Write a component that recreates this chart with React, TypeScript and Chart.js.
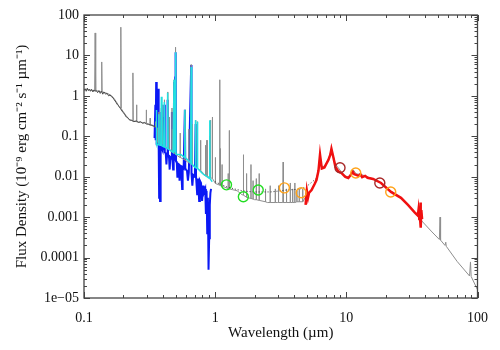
import React, { useEffect, useRef } from "react";
import { Chart, registerables } from "chart.js";
Chart.register(...registerables);

// ---- tick labels ----
const X_TICKS = [0.1, 1, 10, 100];
const X_TICK_LABELS = ["0.1", "1", "10", "100"];
const Y_TICKS = [1e-5, 1e-4, 1e-3, 1e-2, 1e-1, 1, 10, 100];
const Y_TICK_LABELS = ["1e\u221205", "0.0001", "0.001", "0.01", "0.1", "1", "10", "100"];

// ---- grey model spectrum: [wavelength (µm), flux] ----
const MODEL_SPECTRUM: [number, number][] = [
  [0.100, 1.40], [0.104, 1.45], [0.110, 1.40], [0.1205, 1.35], [0.1216, 36], [0.1228, 1.35],
  [0.130, 1.30], [0.1355, 1.25], [0.1365, 6.9], [0.1375, 1.25], [0.145, 1.20], [0.155, 1.10],
  [0.163, 1.00], [0.170, 0.85], [0.178, 0.68], [0.185, 0.55], [0.1895, 0.50], [0.1909, 50],
  [0.1925, 0.48], [0.200, 0.40], [0.210, 0.32], [0.222, 0.26], [0.2345, 0.24], [0.236, 3.7],
  [0.2375, 0.24], [0.250, 0.23], [0.2515, 0.60], [0.253, 0.23], [0.270, 0.22], [0.2975, 0.21],
  [0.2985, 0.45], [0.2995, 0.21], [0.318, 0.19], [0.3195, 0.28], [0.321, 0.19], [0.3485, 0.17],
  [0.350, 0.23], [0.3515, 0.17], [0.3645, 0.16], [0.366, 0.07],
  [0.3722, 0.069], [0.3727, 0.4], [0.3732, 0.069],
  [0.3864, 0.067], [0.3869, 0.25], [0.3874, 0.067],
  [0.3885, 0.066], [0.389, 0.5], [0.3895, 0.066],
  [0.3965, 0.064], [0.397, 0.6], [0.3975, 0.064],
  [0.4095, 0.060], [0.4102, 0.8], [0.411, 0.060],
  [0.4335, 0.050], [0.434, 1.25], [0.4345, 0.050],
  [0.4358, 0.049], [0.4363, 0.2], [0.4368, 0.049],
  [0.4465, 0.046], [0.4471, 0.3], [0.4477, 0.046],
  [0.468, 0.041], [0.4686, 0.5], [0.4692, 0.041],
  [0.4708, 0.040], [0.4713, 0.15], [0.4718, 0.040],
  [0.4855, 0.038], [0.4861, 2.5], [0.4867, 0.038],
  [0.4955, 0.037], [0.4959, 5], [0.4963, 0.037],
  [0.5003, 0.036], [0.5007, 16], [0.5011, 0.036],
  [0.530, 0.031], [0.5407, 0.030], [0.5412, 0.12], [0.5417, 0.030],
  [0.587, 0.026], [0.5876, 0.45], [0.5882, 0.026],
  [0.6296, 0.022], [0.6300, 0.15], [0.6304, 0.022],
  [0.6555, 0.021], [0.6563, 6.0], [0.6571, 0.021],
  [0.6675, 0.020], [0.6678, 0.2], [0.6681, 0.020],
  [0.6713, 0.019], [0.6717, 0.10], [0.6721, 0.019],
  [0.706, 0.017], [0.7065, 0.25], [0.707, 0.017],
  [0.7131, 0.0165], [0.7136, 0.12], [0.7141, 0.0165],
  [0.7315, 0.016], [0.7325, 0.23], [0.7335, 0.016],
  [0.7746, 0.014], [0.7751, 0.08], [0.7756, 0.014],
  [0.800, 0.013], [0.820, 0.011],
  [0.8441, 0.0105], [0.8446, 0.06], [0.8451, 0.0105],
  [0.866, 0.0102], [0.8665, 0.08], [0.867, 0.0102],
  [0.9064, 0.0097], [0.9069, 0.10], [0.9074, 0.0097],
  [0.9225, 0.0095], [0.923, 0.25], [0.9235, 0.0095],
  [0.9525, 0.0090], [0.9532, 0.30], [0.954, 0.0090],
  [1.000, 0.0070], [1.004, 0.0068], [1.005, 0.030], [1.006, 0.0068],
  [1.080, 0.0062], [1.083, 2.5], [1.086, 0.0062],
  [1.091, 0.0061], [1.094, 0.05], [1.097, 0.0060],
  [1.128, 0.0058], [1.129, 0.02], [1.130, 0.0058],
  [1.180, 0.0055], [1.256, 0.0051], [1.257, 0.012], [1.258, 0.0051],
  [1.280, 0.0050], [1.282, 0.14], [1.284, 0.0050],
  [1.350, 0.0048], [1.470, 0.0045], [1.600, 0.0036],
  [1.6435, 0.0035], [1.644, 0.035], [1.6445, 0.0035],
  [1.7355, 0.0031], [1.736, 0.012], [1.7365, 0.0031],
  [1.800, 0.0030], [1.874, 0.0029], [1.875, 0.020], [1.876, 0.0029],
  [1.944, 0.0028], [1.945, 0.008], [1.946, 0.0028],
  [2.000, 0.0027], [2.057, 0.0027], [2.0587, 0.009], [2.060, 0.0027],
  [2.165, 0.0026], [2.166, 0.012], [2.167, 0.0026],
  [2.418, 0.0024], [2.42, 0.005], [2.422, 0.0024], [2.500, 0.0023],
  [2.622, 0.0023], [2.626, 0.006], [2.630, 0.0023],
  [2.870, 0.0023], [2.873, 0.005], [2.876, 0.0023],
  [3.000, 0.0023], [3.037, 0.0023], [3.040, 0.006], [3.043, 0.0023],
  [3.280, 0.0023], [3.297, 0.023], [3.315, 0.0023],
  [3.497, 0.0023], [3.50, 0.005], [3.503, 0.0023],
  [3.736, 0.0023], [3.740, 0.007], [3.744, 0.0023],
  [3.897, 0.0023], [3.90, 0.005], [3.903, 0.0023],
  [4.000, 0.0023], [4.048, 0.0023], [4.052, 0.007], [4.056, 0.0023],
  [4.197, 0.0024], [4.20, 0.0045], [4.203, 0.0024],
  [4.372, 0.0024], [4.376, 0.005], [4.380, 0.0024],
  [4.600, 0.0024], [4.650, 0.0024], [4.654, 0.005], [4.658, 0.0024],
  [4.900, 0.0032], [5.150, 0.0040], [5.400, 0.0047], [5.900, 0.0083], [6.130, 0.015],
  [6.300, 0.034], [6.500, 0.018], [6.800, 0.018], [7.050, 0.022], [7.300, 0.026],
  [7.700, 0.049], [8.000, 0.030], [8.260, 0.020], [8.700, 0.0165], [9.160, 0.0132],
  [9.800, 0.0105], [10.35, 0.0099], [10.90, 0.0115], [11.30, 0.0147], [11.90, 0.0117],
  [12.80, 0.0115], [13.90, 0.0105], [16.00, 0.0088], [18.40, 0.0070], [21.90, 0.0044],
  [26.10, 0.0030], [29.50, 0.0020], [33.30, 0.0013], [37.00, 0.00085], [45.00, 0.00043],
  [51.20, 0.00028], [51.80, 0.0010], [52.30, 0.00027],
  [56.50, 0.00020], [57.30, 0.00024], [57.80, 0.00019],
  [70.00, 0.00008], [87.00, 0.000035], [88.40, 0.000078], [89.50, 0.000034], [100.0, 0.000016],
];

// ---- dark UV spectrum ----
const UV_WL = [
  0.100, 0.102, 0.104, 0.106, 0.108, 0.110, 0.112, 0.114, 0.117, 0.119,
  0.121, 0.124, 0.127, 0.130, 0.133, 0.136, 0.139, 0.142, 0.146, 0.150,
  0.154, 0.158, 0.162, 0.166, 0.170, 0.175, 0.180, 0.185, 0.190, 0.195,
  0.200, 0.205, 0.210, 0.215, 0.220, 0.225, 0.230, 0.240, 0.250, 0.260,
  0.270, 0.280, 0.290, 0.300, 0.310, 0.320, 0.330, 0.340, 0.350,
];
const UV_FLUX = [
  1.35, 1.50, 1.30, 1.55, 1.35, 1.45, 1.30, 1.45, 1.25, 1.40,
  1.30, 1.35, 1.20, 1.35, 1.15, 1.30, 1.10, 1.25, 1.10, 1.15,
  1.00, 1.05, 0.95, 0.90, 0.80, 0.70, 0.60, 0.55, 0.48, 0.42,
  0.38, 0.34, 0.30, 0.29, 0.26, 0.25, 0.25, 0.23, 0.24, 0.22,
  0.23, 0.21, 0.22, 0.20, 0.20, 0.19, 0.19, 0.18, 0.17,
];

// ---- dark dotted near-IR model ----
const NIR_WL = [1.0, 1.1, 1.23, 1.4, 1.6, 1.8, 2.0, 2.3, 2.66, 3.0, 3.5, 4.0, 4.46, 4.9, 5.5, 6.0];
const NIR_FLUX = [0.0075, 0.0065, 0.0056, 0.005, 0.0045, 0.0043, 0.0042, 0.0042, 0.0042, 0.0044, 0.0047, 0.0048, 0.005, 0.0055, 0.0075, 0.0095];

// ---- blue optical spectrum ----
const BLUE_WL = [
  0.345, 0.350, 0.352, 0.355, 0.357, 0.360, 0.362, 0.365, 0.368, 0.371,
  0.374, 0.377, 0.380, 0.384, 0.389, 0.392, 0.397, 0.402, 0.405, 0.410,
  0.413, 0.420, 0.425, 0.430, 0.434, 0.437, 0.445, 0.450, 0.455, 0.462,
  0.468, 0.472, 0.478, 0.483, 0.486, 0.489, 0.494, 0.496, 0.498, 0.5007,
  0.503, 0.510, 0.515, 0.520, 0.530, 0.535, 0.540, 0.550, 0.560, 0.565,
  0.575, 0.5876, 0.592, 0.600, 0.610, 0.620, 0.630, 0.6563, 0.660, 0.670,
  0.680, 0.700, 0.710, 0.715, 0.730, 0.740, 0.755, 0.765, 0.780, 0.795,
  0.810, 0.820, 0.840, 0.850, 0.860, 0.870, 0.880, 0.890, 0.900, 0.910,
  0.920, 0.930,
];
const BLUE_FLUX = [
  0.09, 0.6, 0.08, 2.2, 0.1, 0.06, 0.5, 0.07, 1.5, 0.06,
  0.003, 0.05, 0.0025, 0.055, 0.4, 0.05, 0.045, 0.3, 0.045, 0.6,
  0.04, 0.038, 0.02, 0.036, 0.8, 0.035, 0.03, 0.015, 0.03, 0.028,
  0.4, 0.027, 0.015, 0.026, 2.2, 0.026, 0.025, 3, 0.025, 12,
  0.024, 0.022, 0.01, 0.021, 0.02, 0.008, 0.019, 0.018, 0.005, 0.017,
  0.016, 0.45, 0.016, 0.015, 0.014, 0.008, 0.013, 5.8, 0.012, 0.006,
  0.011, 0.010, 0.2, 0.010, 0.0035, 0.009, 0.0025, 0.008, 0.007, 0.0025,
  0.006, 0.004, 0.005, 0.0012, 0.0045, 0.0004, 0.003, 0.00005, 0.0003, 0.002,
  0.004, 0.005,
];

// ---- cyan optical spectrum ----
const CYAN_WL = [
  0.355, 0.3565, 0.358, 0.370, 0.372, 0.3727, 0.3735, 0.385, 0.389, 0.393,
  0.405, 0.410, 0.415, 0.430, 0.434, 0.438, 0.470, 0.478, 0.486, 0.490,
  0.4959, 0.4985, 0.5007, 0.503, 0.550, 0.584, 0.5876, 0.591, 0.650, 0.6563,
  0.662, 0.703, 0.7065, 0.710, 0.729, 0.7325, 0.736, 0.800, 0.850, 0.906,
  0.910, 0.914, 0.950,
];
const CYAN_FLUX = [
  0.07, 0.45, 0.065, 0.062, 0.062, 0.35, 0.061, 0.06, 0.95, 0.058,
  0.055, 0.7, 0.054, 0.05, 1.2, 0.049, 0.042, 0.04, 2.5, 0.04,
  2.5, 0.038, 12, 0.036, 0.035, 0.03, 0.45, 0.03, 0.022, 5.2,
  0.021, 0.017, 0.25, 0.017, 0.016, 0.23, 0.016, 0.012, 0.0105, 0.009,
  0.25, 0.009, 0.0075,
];

// ---- red mid-IR spectrum ----
const RED_WL = [
  4.89, 5.00, 5.10, 5.20, 5.43, 5.72, 5.92, 6.13, 6.30, 6.50,
  6.81, 7.05, 7.30, 7.55, 7.70, 7.97, 8.26, 8.70, 9.16, 9.82,
  10.35, 10.90, 11.20, 11.50, 11.90, 12.40, 12.80, 13.20, 13.90, 14.50,
  16.00, 18.40, 21.90, 26.10, 29.50, 33.30, 35.10, 35.50, 36.00, 36.50,
  36.80, 37.00, 37.30, 37.80,
];
const RED_FLUX = [
  0.0020, 0.0045, 0.0030, 0.0040, 0.0047, 0.0065, 0.0083, 0.014, 0.035, 0.016,
  0.017, 0.021, 0.026, 0.035, 0.049, 0.030, 0.0175, 0.0135, 0.0124, 0.0099,
  0.0093, 0.0115, 0.0132, 0.0115, 0.0111, 0.0105, 0.0115, 0.0098, 0.0105, 0.0094,
  0.0088, 0.0070, 0.0042, 0.0030, 0.0020, 0.0013, 0.0011, 0.0015, 0.0009, 0.0009,
  0.0023, 0.00055, 0.0015, 0.0009,
];

// ---- photometry ----
const GREEN_WL = [1.22, 1.64, 2.13];
const GREEN_FLUX = [0.0063, 0.0032, 0.0047];
const ORANGE_WL = [3.37, 4.53, 11.8, 21.8];
const ORANGE_FLUX = [0.0053, 0.0040, 0.0124, 0.0042];
const DARKRED_WL = [8.95, 18.0];
const DARKRED_FLUX = [0.0166, 0.0070];

const pts = (xs: number[], ys: number[]) => xs.map((x, i) => ({ x, y: ys[i] }));

const frameTicks = {
  id: "frameTicks",
  afterDatasetsDraw(chart: any) {
    const { ctx, chartArea: a, scales } = chart;
    const xs = scales.x;
    const ys = scales.y;
    ctx.save();
    ctx.strokeStyle = "#444";
    ctx.lineWidth = 1;
    ctx.beginPath();
    for (let d = -1; d <= 2; d++) {
      for (let m = 1; m <= 9; m++) {
        const v = m * Math.pow(10, d);
        if (v > 100.0001) continue;
        const px = Math.round(xs.getPixelForValue(v)) + 0.5;
        const len = m === 1 ? 6 : 3;
        ctx.moveTo(px, a.bottom);
        ctx.lineTo(px, a.bottom - len);
        ctx.moveTo(px, a.top);
        ctx.lineTo(px, a.top + len);
      }
    }
    for (let d = -5; d <= 2; d++) {
      for (let m = 1; m <= 9; m++) {
        const v = m * Math.pow(10, d);
        if (v > 100.0001) continue;
        const py = Math.round(ys.getPixelForValue(v)) + 0.5;
        const len = m === 1 ? 6 : 3;
        ctx.moveTo(a.left, py);
        ctx.lineTo(a.left + len, py);
        ctx.moveTo(a.right, py);
        ctx.lineTo(a.right - len, py);
      }
    }
    ctx.stroke();
    ctx.lineWidth = 1.3;
    ctx.strokeRect(a.left, a.top, a.right - a.left, a.bottom - a.top);
    ctx.restore();
  },
};

const FONT = "'Liberation Serif', 'Times New Roman', serif";

export default function App() {
  const ref = useRef<HTMLCanvasElement | null>(null);
  useEffect(() => {
    if (!ref.current) return;
    const line = (data: any, color: string, width: number, order: number, extra: any = {}) => ({
      data,
      borderColor: color,
      backgroundColor: color,
      borderWidth: width,
      showLine: true,
      pointRadius: 0,
      tension: 0,
      order,
      ...extra,
    });
    const circles = (data: any, color: string) => ({
      data,
      borderColor: color,
      backgroundColor: "rgba(0,0,0,0)",
      borderWidth: 1.4,
      pointRadius: 5,
      pointStyle: "circle",
      showLine: false,
      order: 0,
    });
    const chart = new Chart(ref.current, {
      type: "scatter",
      data: {
        datasets: [
          line(pts(BLUE_WL, BLUE_FLUX), "#0a18f5", 2, 9),
          line(MODEL_SPECTRUM.map(([x, y]) => ({ x, y })), "#8e8e8e", 1, 8),
          line(pts(CYAN_WL, CYAN_FLUX), "#22e0e0", 1.5, 7),
          line(pts(UV_WL, UV_FLUX), "#4a4a4a", 1, 6),
          line(pts(NIR_WL, NIR_FLUX), "#333333", 1, 5, { borderDash: [1, 2] }),
          line(pts(RED_WL, RED_FLUX), "#f01010", 2.5, 4),
          circles(pts(GREEN_WL, GREEN_FLUX), "#22dd22"),
          circles(pts(ORANGE_WL, ORANGE_FLUX), "#ffa31a"),
          circles(pts(DARKRED_WL, DARKRED_FLUX), "#a82828"),
        ] as any,
      },
      options: {
        animation: false,
        responsive: false,
        maintainAspectRatio: false,
        devicePixelRatio: 1,
        layout: { padding: { top: 15, right: 20, left: 0, bottom: 0 } },
        plugins: { legend: { display: false }, tooltip: { enabled: false } },
        scales: {
          x: {
            type: "logarithmic",
            min: 0.1,
            max: 100,
            afterBuildTicks: (s: any) => {
              s.ticks = X_TICKS.map((v) => ({ value: v }));
            },
            afterFit: (s: any) => {
              s.height = 52;
            },
            ticks: {
              autoSkip: false,
              maxRotation: 0,
              padding: 12,
              color: "#111",
              font: { family: FONT, size: 14 },
              callback: (v: any) => {
                const i = X_TICKS.findIndex((t) => Math.abs(t - v) / t < 1e-6);
                return i >= 0 ? X_TICK_LABELS[i] : "";
              },
            },
            grid: { display: false, drawTicks: false },
            border: { display: false },
            title: {
              display: true,
              text: "Wavelength (\u00b5m)",
              color: "#111",
              font: { family: FONT, size: 15 },
              padding: { top: 0, bottom: 8 },
            },
          },
          y: {
            type: "logarithmic",
            min: 1e-5,
            max: 100,
            afterBuildTicks: (s: any) => {
              s.ticks = Y_TICKS.map((v) => ({ value: v }));
            },
            afterFit: (s: any) => {
              s.width = 84;
            },
            ticks: {
              autoSkip: false,
              padding: 5,
              color: "#111",
              font: { family: FONT, size: 14 },
              callback: (v: any) => {
                const i = Y_TICKS.findIndex((t) => Math.abs(t - v) / t < 1e-6);
                return i >= 0 ? Y_TICK_LABELS[i] : "";
              },
            },
            grid: { display: false, drawTicks: false },
            border: { display: false },
            title: {
              display: true,
              text: "Flux Density (10\u207b\u2079 erg cm\u207b\u00b2 s\u207b\u00b9 \u00b5m\u207b\u00b9)",
              color: "#111",
              font: { family: FONT, size: 15 },
              padding: { top: 13, bottom: 0 },
            },
          },
        },
      },
      plugins: [frameTicks],
    } as any);
    return () => chart.destroy();
  }, []);
  return (
    <canvas
      ref={ref}
      width={500}
      height={350}
      style={{ position: "fixed", left: 0, top: 0, width: 500, height: 350, background: "#fff" }}
    />
  );
}
